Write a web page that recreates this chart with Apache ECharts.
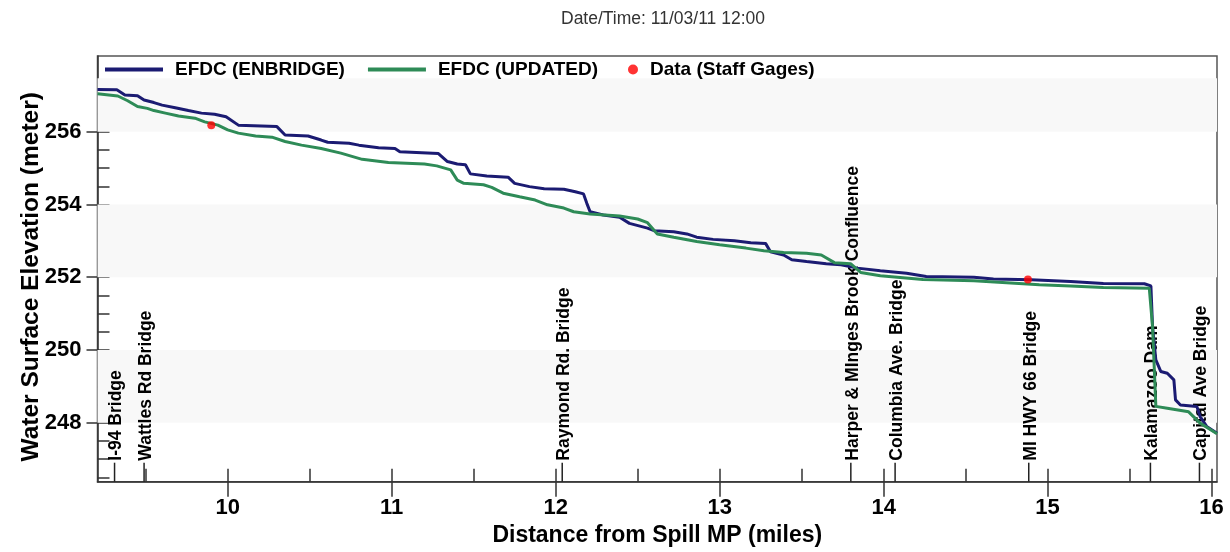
<!DOCTYPE html>
<html>
<head>
<meta charset="utf-8">
<script src="https://cdn.jsdelivr.net/npm/echarts@6/dist/echarts.min.js"></script>
<style>
html,body{margin:0;padding:0;background:#fff;}
#chart{width:1230px;height:552px;}
</style>
</head>
<body>
<div id="chart"></div>
<script>
// ---- data ----
const titleText = 'Date/Time: 11/03/11 12:00';
const seriesNames = ['EFDC (ENBRIDGE)', 'EFDC (UPDATED)', 'Data (Staff Gages)'];

const enbridgeMiles = [9.206, 9.324, 9.373, 9.45, 9.49, 9.55, 9.60, 9.68, 9.76, 9.84, 9.92, 9.99, 10.065, 10.30, 10.35, 10.49, 10.57, 10.61, 10.74, 10.80, 10.92, 11.02, 11.05, 11.285, 11.34, 11.40, 11.45, 11.48, 11.58, 11.71, 11.75, 11.84, 11.93, 12.05, 12.12, 12.17, 12.19, 12.21, 12.29, 12.39, 12.45, 12.56, 12.60, 12.72, 12.80, 12.86, 12.96, 13.09, 13.19, 13.28, 13.31, 13.39, 13.44, 13.53, 13.65, 13.74, 13.84, 13.98, 14.14, 14.26, 14.55, 14.67, 14.90, 15.14, 15.34, 15.59, 15.63, 15.64, 15.66, 15.69, 15.73, 15.77, 15.78, 15.81, 15.91, 15.93, 15.97, 16.033];
const enbridgeElev = [257.16, 257.15, 257.01, 256.99, 256.87, 256.80, 256.73, 256.66, 256.58, 256.51, 256.48, 256.41, 256.18, 256.14, 255.91, 255.88, 255.77, 255.71, 255.68, 255.63, 255.56, 255.54, 255.45, 255.40, 255.18, 255.11, 255.09, 254.84, 254.78, 254.75, 254.58, 254.49, 254.43, 254.42, 254.35, 254.29, 254.03, 253.80, 253.71, 253.65, 253.48, 253.35, 253.28, 253.25, 253.19, 253.10, 253.04, 253.00, 252.95, 252.93, 252.70, 252.61, 252.48, 252.43, 252.37, 252.34, 252.25, 252.18, 252.11, 252.02, 252.00, 251.95, 251.93, 251.88, 251.83, 251.82, 251.76, 250.64, 249.73, 249.41, 249.36, 249.18, 248.63, 248.49, 248.45, 248.17, 247.90, 247.71];

const updatedMiles = [9.206, 9.33, 9.39, 9.45, 9.51, 9.55, 9.62, 9.70, 9.80, 9.86, 9.94, 10.00, 10.065, 10.17, 10.27, 10.35, 10.45, 10.57, 10.69, 10.82, 10.98, 11.20, 11.275, 11.36, 11.40, 11.44, 11.56, 11.61, 11.68, 11.78, 11.875, 11.95, 12.05, 12.11, 12.21, 12.39, 12.50, 12.56, 12.62, 12.72, 12.86, 13.00, 13.16, 13.27, 13.39, 13.53, 13.62, 13.70, 13.80, 13.86, 13.98, 14.24, 14.55, 14.75, 14.95, 15.14, 15.34, 15.62, 15.64, 15.66, 15.73, 15.86, 15.93, 16.033];
const updatedElev = [257.04, 256.98, 256.85, 256.69, 256.64, 256.58, 256.51, 256.43, 256.37, 256.27, 256.18, 256.05, 255.96, 255.88, 255.85, 255.73, 255.63, 255.54, 255.41, 255.24, 255.15, 255.11, 255.06, 254.95, 254.67, 254.58, 254.54, 254.47, 254.31, 254.21, 254.12, 253.99, 253.90, 253.80, 253.74, 253.68, 253.60, 253.50, 253.19, 253.10, 252.98, 252.89, 252.80, 252.73, 252.68, 252.66, 252.61, 252.40, 252.37, 252.13, 252.04, 251.94, 251.90, 251.85, 251.79, 251.76, 251.72, 251.70, 250.64, 248.45, 248.40, 248.30, 247.99, 247.70];

const gageMiles = [9.90, 14.88];
const gageElev = [256.18, 251.94];

const landmarkNames = ['I-94 Bridge', 'Wattles Rd Bridge', 'Raymond Rd. Bridge', 'Harper & MInges Brook Confluence', 'Columbia Ave. Bridge', 'MI HWY 66 Bridge', 'Kalamazoo Dam', 'Capital Ave Bridge'];
const landmarkMiles = [9.31, 9.49, 12.04, 13.80, 14.07, 14.885, 15.627, 15.926];

const xTickValues = [10, 11, 12, 13, 14, 15, 16];
const xMinorTicks = [9.5, 10, 10.5, 11, 11.5, 12, 12.5, 13, 13.5, 14, 14.5, 15, 15.5, 16];
const yTickValues = [248, 250, 252, 254, 256];
const yMinorTicks = [246.5, 247, 247.5, 248, 248.5, 249, 249.5, 250, 250.5, 251, 251.5, 252, 252.5, 253, 253.5, 254, 254.5, 255, 255.5, 256, 256.5, 257];
const bandRanges = [[256, 257.47], [252, 254], [248, 250]];

const X_MIN = 9.206, X_MAX = 16.033;
const Y_MIN = 246.38, Y_MAX = 258.08;

// ---- chart ----
const FONT = '"Liberation Sans", Arial, sans-serif';
const zip = (a, b) => a.map((v, i) => [v, b[i]]);
const chart = echarts.init(document.getElementById('chart'), null, {renderer: 'canvas'});

const option = {
  animation: false,
  backgroundColor: '#fff',
  title: {
    text: titleText, left: 556, top: 5,
    textStyle: {fontFamily: FONT, fontSize: 17.5, fontWeight: 'normal', color: '#333'}
  },
  legend: [
    {
      data: [{name: seriesNames[0], icon: 'rect'}, {name: seriesNames[1], icon: 'rect'}],
      left: 105, top: 60, padding: 0, itemGap: 23, itemWidth: 58, itemHeight: 4,
      textStyle: {fontFamily: FONT, fontSize: 19, fontWeight: 'bold', color: '#000', padding: [0, 0, 0, 7]},
      selectedMode: false
    },
    {
      data: [seriesNames[2]],
      left: 628, top: 60, padding: 0, itemWidth: 10, itemHeight: 10,
      textStyle: {fontFamily: FONT, fontSize: 19, fontWeight: 'bold', color: '#000', padding: [0, 0, 0, 7]},
      selectedMode: false
    }
  ],
  grid: {
    left: 97.5, right: 13, top: 56, bottom: 70.3,
    show: true, borderColor: '#555', borderWidth: 1.5, backgroundColor: 'transparent'
  },
  xAxis: [
    {
      type: 'value', min: X_MIN, max: X_MAX,
      name: 'Distance from Spill MP (miles)', nameLocation: 'middle', nameGap: 42,
      nameTextStyle: {fontFamily: FONT, fontSize: 23, fontWeight: 'bold', color: '#000'},
      axisLine: {show: true, lineStyle: {color: '#333', width: 1.5}},
      axisTick: {show: true, inside: false, length: 15, customValues: xTickValues, lineStyle: {color: '#333', width: 1.5}},
      axisLabel: {customValues: xTickValues, fontFamily: FONT, fontSize: 22, fontWeight: 'bold', color: '#000', margin: 15},
      splitLine: {show: false}
    },
    {
      type: 'value', min: X_MIN, max: X_MAX, position: 'bottom',
      axisLine: {show: false},
      axisTick: {show: true, inside: true, length: 13, customValues: xMinorTicks, lineStyle: {color: '#333', width: 1.5}},
      axisLabel: {show: false},
      splitLine: {show: false}
    }
  ],
  yAxis: [
    {
      type: 'value', min: Y_MIN, max: Y_MAX,
      name: 'Water Surface Elevation (meter)', nameLocation: 'middle', nameGap: 54, nameMoveOverlap: false,
      nameTextStyle: {fontFamily: FONT, fontSize: 24.5, fontWeight: 'bold', color: '#000', padding: [0, 16, 0, 0]},
      axisLine: {show: true, lineStyle: {color: '#333', width: 1.5}},
      axisTick: {show: true, inside: false, length: 11, customValues: yTickValues, lineStyle: {color: '#333', width: 1.5}},
      axisLabel: {customValues: yTickValues, fontFamily: FONT, fontSize: 22, fontWeight: 'bold', color: '#000', margin: 16},
      splitLine: {show: false}
    },
    {
      type: 'value', min: Y_MIN, max: Y_MAX, position: 'left',
      axisLine: {show: false},
      axisTick: {show: true, inside: true, length: 12, customValues: yMinorTicks, lineStyle: {color: '#333', width: 1.5}},
      axisLabel: {show: false},
      splitLine: {show: false}
    }
  ],
  series: [
    {
      name: 'bands', type: 'line', data: [], z: 0, silent: true,
      markArea: {
        silent: true,
        itemStyle: {color: '#f8f8f8'},
        data: bandRanges.map(r => [{yAxis: r[0]}, {yAxis: r[1]}])
      }
    },
    {
      name: 'landmarks', type: 'custom', z: 1, silent: true,
      data: landmarkMiles.map(m => [m, Y_MIN]),
      renderItem: function (params, api) {
        const p = api.coord([api.value(0), Y_MIN]);
        return {
          type: 'group',
          children: [
            {type: 'line', shape: {x1: p[0], y1: p[1], x2: p[0], y2: p[1] - 19},
             style: {stroke: '#222', lineWidth: 1.5}},
            {type: 'text', x: p[0] + 2, y: p[1] - 21, rotation: Math.PI / 2,
             style: {text: landmarkNames[params.dataIndex], fill: '#000',
                     font: 'bold 17.5px ' + FONT, align: 'left', verticalAlign: 'middle'}}
          ]
        };
      }
    },
    {
      name: seriesNames[0], type: 'line', z: 3, symbol: 'none',
      data: zip(enbridgeMiles, enbridgeElev),
      lineStyle: {color: '#1b1b72', width: 3}, itemStyle: {color: '#1b1b72'}
    },
    {
      name: seriesNames[1], type: 'line', z: 4, symbol: 'none',
      data: zip(updatedMiles, updatedElev),
      lineStyle: {color: '#2e8b57', width: 3}, itemStyle: {color: '#2e8b57'}
    },
    {
      name: seriesNames[2], type: 'scatter', z: 5, symbol: 'circle', symbolSize: 8,
      data: zip(gageMiles, gageElev),
      itemStyle: {color: '#ff0000'}
    }
  ]
};
chart.setOption(option);
</script>
</body>
</html>
